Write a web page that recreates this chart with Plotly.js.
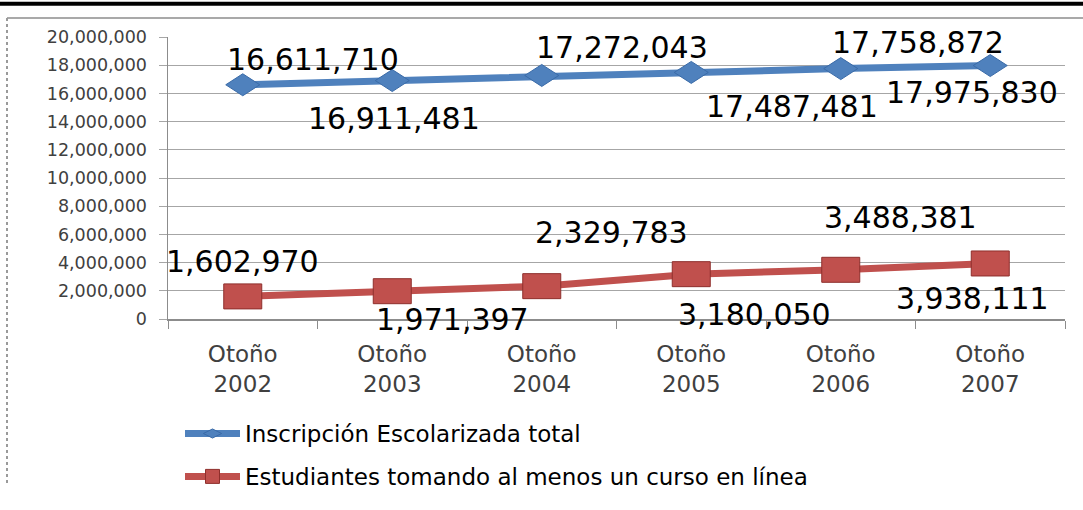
<!DOCTYPE html>
<html>
<head>
<meta charset="utf-8">
<script src="https://cdn.plot.ly/plotly-3.0.1.min.js"></script>
<style>html,body{margin:0;padding:0;background:#fff;}#chart{width:1083px;height:510px;}</style>
</head>
<body>
<div id="chart"></div>
<script>
// ---- data ----
const categories = ["Otoño 2002", "Otoño 2003", "Otoño 2004", "Otoño 2005", "Otoño 2006", "Otoño 2007"];
const tickLabels = ["Otoño<br>2002", "Otoño<br>2003", "Otoño<br>2004", "Otoño<br>2005", "Otoño<br>2006", "Otoño<br>2007"];
const seriesNames = ["Inscripción Escolarizada total", "Estudiantes tomando al menos un curso en línea"];
const totalEnrollment = [16611710, 16911481, 17272043, 17487481, 17758872, 17975830];
const onlineStudents = [1602970, 1971397, 2329783, 3180050, 3488381, 3938111];

// ---- label offsets (pixels) ----
const blueShiftX = [70, 2, 80, 101, 77, -18];
const blueShiftY = [25, -38, 28, -34, 26, -27];
const redShiftX = [0, 60, 70, 63, 60, -18];
const redShiftY = [35, -28, 54, -40, 52, -35];

const BLUE = "#4F81BD", BLUE_DARK = "#3A6BA8";
const RED = "#C0504D", RED_DARK = "#8E2F2C";
const FONT = "DejaVu Sans";

// plot area geometry in pixels
const W = 1083, H = 510;
const M = {l: 168, r: 18, t: 37, b: 176};
const PW = W - M.l - M.r, PH = H - M.t - M.b;
const px2x = p => (p - M.l) / PW;
const px2y = p => (H - M.b - p) / PH;

const fmt = v => v.toLocaleString("en-US");

const traces = [
  {
    type: "scatter", mode: "lines+markers", name: seriesNames[0],
    x: categories, y: totalEnrollment,
    line: {color: BLUE, width: 7},
    marker: {symbol: "diamond-wide", size: 13, color: BLUE, line: {color: BLUE_DARK, width: 1}},
    legendgroup: "a", hoverinfo: "x+y"
  },
  {
    type: "scatter", mode: "lines+markers", name: seriesNames[1],
    x: categories, y: onlineStudents,
    line: {color: RED, width: 7},
    marker: {symbol: "square", size: 14, color: RED, line: {color: RED_DARK, width: 1}},
    legendgroup: "b", hoverinfo: "x+y"
  }
];

const shapes = [];
// frame decorations
shapes.push({type: "line", xref: "paper", yref: "paper", x0: px2x(0), x1: px2x(W), y0: px2y(2), y1: px2y(2), line: {color: "#000", width: 4}, layer: "below"});
shapes.push({type: "line", xref: "paper", yref: "paper", x0: px2x(7), x1: px2x(W), y0: px2y(17), y1: px2y(17), line: {color: "#8c8c8c", width: 1.5}, layer: "below"});
shapes.push({type: "line", xref: "paper", yref: "paper", x0: px2x(7), x1: px2x(7), y0: px2y(17), y1: px2y(H), line: {color: "#9a9a9a", width: 2, dash: "dot"}, layer: "below"});

// wide markers drawn as pixel-sized shapes anchored at the data points
categories.forEach((c, i) => {
  shapes.push({
    type: "path", xref: "x", yref: "y", xsizemode: "pixel", ysizemode: "pixel",
    xanchor: i, yanchor: totalEnrollment[i],
    path: "M -17 0 L 0 11 L 17 0 L 0 -11 Z",
    fillcolor: BLUE, line: {color: BLUE_DARK, width: 1}, layer: "above"
  });
  shapes.push({
    type: "rect", xref: "x", yref: "y", xsizemode: "pixel", ysizemode: "pixel",
    xanchor: i, yanchor: onlineStudents[i],
    x0: -19, x1: 19, y0: -12.5, y1: 12.5,
    fillcolor: RED, line: {color: RED_DARK, width: 1}, layer: "above"
  });
});

const annotations = [];
categories.forEach((c, i) => {
  annotations.push({x: c, y: totalEnrollment[i], xref: "x", yref: "y", text: fmt(totalEnrollment[i]),
    showarrow: false, xshift: blueShiftX[i], yshift: blueShiftY[i],
    font: {family: FONT, size: 30, color: "#000"}});
  annotations.push({x: c, y: onlineStudents[i], xref: "x", yref: "y", text: fmt(onlineStudents[i]),
    showarrow: false, xshift: redShiftX[i], yshift: redShiftY[i],
    font: {family: FONT, size: 30, color: "#000"}});
});

const layout = {
  width: W, height: H,
  margin: M,
  paper_bgcolor: "#fff", plot_bgcolor: "#fff",
  font: {family: FONT, color: "#404040"},
  showlegend: true,
  legend: {
    x: px2x(180), y: px2y(432), xanchor: "left", yanchor: "top",
    orientation: "v", traceorder: "grouped", tracegroupgap: 10,
    itemwidth: 55, bgcolor: "rgba(0,0,0,0)",
    font: {family: FONT, size: 23, color: "#000"}
  },
  xaxis: {
    type: "category", range: [-0.5, 5.5],
    tickmode: "array", tickvals: categories, ticktext: tickLabels,
    tickson: "boundaries", ticks: "outside", ticklen: 8, tickcolor: "#8c8c8c",
    showline: true, linecolor: "#8c8c8c", linewidth: 1.5,
    showgrid: false, zeroline: false,
    tickfont: {family: FONT, size: 23, color: "#404040"},
    ticklabelstandoff: 14, automargin: false
  },
  yaxis: {
    range: [0, 20000000], dtick: 2000000, tickformat: ",d",
    ticks: "outside", ticklen: 8, tickcolor: "#a6a6a6",
    showline: true, linecolor: "#8c8c8c", linewidth: 1.5,
    showgrid: true, gridcolor: "#a6a6a6", gridwidth: 1, zeroline: false,
    tickfont: {family: FONT, size: 17.5, color: "#404040"},
    ticklabelstandoff: 8, automargin: false
  },
  shapes: shapes,
  annotations: annotations
};

Plotly.newPlot("chart", traces, layout, {displayModeBar: false, staticPlot: true});
</script>
</body>
</html>
